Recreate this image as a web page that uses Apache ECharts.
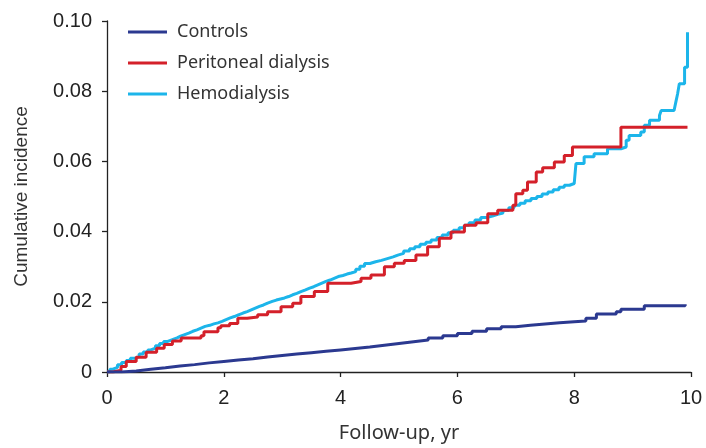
<!DOCTYPE html>
<html><head><meta charset="utf-8">
<script src="https://cdn.jsdelivr.net/npm/echarts@6/dist/echarts.min.js"></script>
<style>html,body{margin:0;padding:0;background:#fff}#c{width:706px;height:448px}</style>
</head><body><div id="c"></div>
<script>
var seriesNames = ['Controls', 'Peritoneal dialysis', 'Hemodialysis'];
var seriesColors = ['#2b3990', '#d4202a', '#1cb5ea'];
var xTicks = [0, 2, 4, 6, 8, 10];
var yTicks = [0, 0.02, 0.04, 0.06, 0.08, 0.10];

var controls = [[0,0],[0.25,0.0003],[0.5,0.0008],[0.75,0.0012],[1,0.0017],[1.25,0.0021],[1.5,0.0026],[1.75,0.003],[2,0.0034],[2.25,0.0038],[2.5,0.0043],[2.75,0.0047],[3,0.0051],[3.25,0.0055],[3.5,0.0059],[3.75,0.0063],[4,0.0067],[4.25,0.0071],[4.5,0.0076],[4.75,0.0081],[5,0.0086],[5.25,0.0091],[5.5,0.0097],[5.75,0.0103],[6,0.011],[6.25,0.0116],[6.5,0.0123],[6.75,0.0129],[7,0.0133],[7.25,0.0137],[7.5,0.014],[7.75,0.0143],[8,0.0145],[8.2,0.0153],[8.38,0.0165],[8.72,0.0172],[8.8,0.0179],[9.2,0.0189],[9.9,0.0193]];

var peritoneal = [[0,0],[0.1,0.0005],[0.24,0.0016],[0.33,0.003],[0.5,0.0042],[0.67,0.0056],[0.85,0.0068],[0.98,0.0078],[1.12,0.0088],[1.27,0.0097],[1.61,0.0103],[1.66,0.0115],[1.9,0.0126],[1.95,0.0132],[2.1,0.0138],[2.24,0.0153],[2.4,0.0157],[2.58,0.0163],[2.75,0.0172],[2.98,0.0186],[3.18,0.0196],[3.32,0.0215],[3.55,0.0229],[3.78,0.0253],[4.18,0.0258],[4.35,0.0267],[4.52,0.0276],[4.75,0.03],[4.92,0.031],[5.09,0.0318],[5.29,0.0333],[5.49,0.0357],[5.69,0.0381],[5.89,0.0399],[6.12,0.0418],[6.32,0.0425],[6.52,0.0451],[6.69,0.0461],[6.95,0.0475],[7.0,0.0508],[7.12,0.0518],[7.2,0.0541],[7.35,0.057],[7.46,0.0582],[7.66,0.0598],[7.83,0.0617],[7.97,0.0641],[8.8,0.0697],[9.94,0.0697]];

var hemodialysis = [[0,0],[0.05,0.0008],[0.1,0.0013],[0.18,0.0021],[0.25,0.0027],[0.33,0.0033],[0.4,0.0039],[0.47,0.0044],[0.55,0.0051],[0.62,0.0057],[0.7,0.0063],[0.75,0.0068],[0.83,0.0075],[0.9,0.0081],[0.97,0.0087],[1.04,0.0092],[1.12,0.0097],[1.2,0.0102],[1.26,0.0106],[1.32,0.0111],[1.4,0.0116],[1.47,0.012],[1.54,0.0125],[1.61,0.013],[1.68,0.0133],[1.76,0.0137],[1.83,0.014],[1.9,0.0144],[1.97,0.0149],[2.04,0.0154],[2.11,0.0158],[2.18,0.0163],[2.25,0.0168],[2.33,0.0172],[2.4,0.0177],[2.47,0.0182],[2.54,0.0187],[2.61,0.0191],[2.68,0.0196],[2.75,0.0201],[2.83,0.0205],[2.9,0.0208],[2.97,0.0211],[3.04,0.0215],[3.11,0.022],[3.18,0.0224],[3.25,0.0229],[3.32,0.0234],[3.4,0.0239],[3.47,0.0243],[3.54,0.0248],[3.61,0.0253],[3.68,0.0258],[3.75,0.0262],[3.82,0.0267],[3.89,0.0272],[3.96,0.0275],[4.04,0.0279],[4.11,0.0282],[4.18,0.0286],[4.26,0.0293],[4.33,0.0301],[4.41,0.0309],[4.5,0.0314],[4.6,0.0318],[4.7,0.0323],[4.8,0.0328],[4.9,0.0333],[4.98,0.0338],[5.08,0.0345],[5.18,0.0351],[5.27,0.0357],[5.36,0.0364],[5.46,0.037],[5.55,0.0376],[5.65,0.0383],[5.74,0.039],[5.84,0.0397],[5.93,0.0404],[6.03,0.0411],[6.12,0.0418],[6.2,0.0425],[6.3,0.0433],[6.4,0.044],[6.5,0.0444],[6.6,0.0449],[6.69,0.0453],[6.78,0.046],[6.88,0.0468],[6.97,0.0475],[7.07,0.0481],[7.16,0.0488],[7.26,0.0494],[7.36,0.05],[7.45,0.0507],[7.55,0.0513],[7.64,0.0519],[7.74,0.0526],[7.83,0.0532],[7.92,0.0537],[8.0,0.0541],[8.03,0.0594],[8.17,0.0613],[8.34,0.0622],[8.57,0.0636],[8.8,0.0641],[8.89,0.066],[8.94,0.0674],[9.14,0.0684],[9.2,0.0703],[9.29,0.0717],[9.46,0.0731],[9.49,0.0745],[9.71,0.0745],[9.74,0.0769],[9.77,0.0792],[9.8,0.0821],[9.89,0.0868],[9.94,0.0968]];

var allData = [controls, peritoneal, hemodialysis];

var chart = echarts.init(document.getElementById('c'), null, {renderer: 'canvas'});
var tickFont = {fontFamily: 'Liberation Sans', fontSize: 20, color: '#222'};
var series = [2, 1, 0].map(function (i) {
  return {
    name: seriesNames[i], type: 'line', step: 'end', symbol: 'none',
    data: allData[i], z: 3 - i,
    lineStyle: {color: seriesColors[i], width: 3},
    itemStyle: {color: seriesColors[i]}
  };
});
chart.setOption({
  animation: false,
  grid: {left: 107, right: 15, top: 21, bottom: 76},
  legend: {
    orient: 'vertical', left: 128, top: 23, itemGap: 13, padding: 0,
    icon: 'rect', itemWidth: 39, itemHeight: 3,
    data: seriesNames,
    textStyle: {fontFamily: 'Noto Sans', fontSize: 18, color: '#333', padding: [0, 0, 0, 5]}
  },
  xAxis: {
    type: 'value', min: xTicks[0], max: xTicks[xTicks.length - 1], interval: 2,
    name: 'Follow-up, yr', nameLocation: 'middle', nameGap: 51,
    nameTextStyle: {fontFamily: 'Noto Sans', fontSize: 20, color: '#333'},
    axisLine: {lineStyle: {color: '#222', width: 1.3}},
    axisTick: {show: true, length: 5, lineStyle: {color: '#222', width: 1.3}},
    axisLabel: Object.assign({margin: 16, formatter: function (v) { return String(v); }}, tickFont),
    splitLine: {show: false}
  },
  yAxis: {
    type: 'value', min: yTicks[0], max: yTicks[yTicks.length - 1], interval: 0.02,
    name: 'Cumulative incidence', nameLocation: 'middle', nameGap: 76,
    nameTextStyle: {fontFamily: 'Liberation Sans', fontSize: 19, color: '#333'},
    axisLine: {show: true, lineStyle: {color: '#222', width: 1.3}},
    axisTick: {show: true, length: 5, lineStyle: {color: '#222', width: 1.3}},
    axisLabel: Object.assign({margin: 15, formatter: function (v) { return v === 0 ? '0' : v.toFixed(2); }}, tickFont),
    splitLine: {show: false}
  },
  series: series
});
</script></body></html>
